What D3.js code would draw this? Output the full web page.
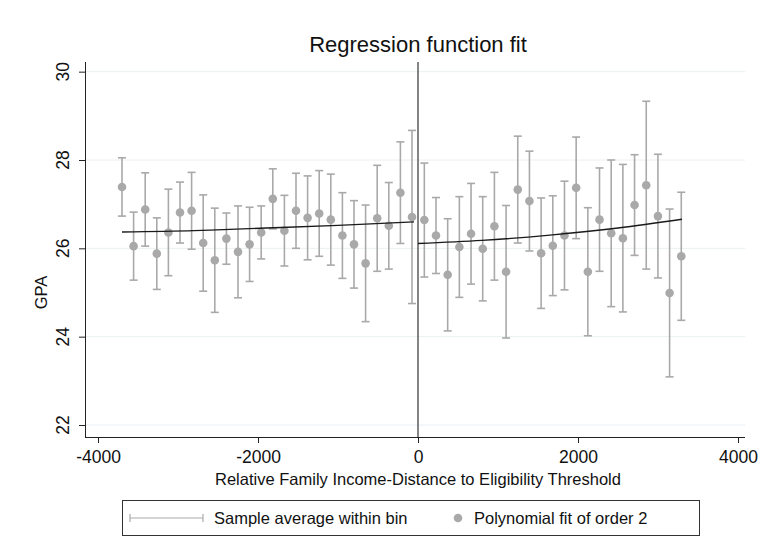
<!DOCTYPE html>
<html><head><meta charset="utf-8">
<script src="https://cdn.jsdelivr.net/npm/d3@7"></script>
<style>body{margin:0;background:#fff;font-family:"Liberation Sans",Arial,sans-serif}</style>
</head><body><svg id="c" width="761" height="552"></svg>
<script>
const leftX = d3.range(26).map(i => -3700 + i*145);
const leftMean = [27.39,26.05,26.88,25.88,26.36,26.81,26.85,26.12,25.73,26.22,25.92,26.09,26.36,27.12,26.40,26.85,26.69,26.79,26.65,26.29,26.09,25.66,26.68,26.51,27.26,26.71];
const leftHalf = [0.66,0.77,0.83,0.81,0.98,0.69,0.87,1.09,1.18,0.58,1.04,0.84,0.60,0.68,0.80,0.85,0.95,0.97,1.03,0.97,0.99,1.32,1.20,0.98,1.15,1.96];
const rightX = d3.range(23).map(i => 79 + i*146);
const rightMean = [26.64,26.29,25.40,26.03,26.33,25.99,26.50,25.47,27.33,27.07,25.89,26.06,26.29,27.37,25.47,26.65,26.34,26.23,26.98,27.43,26.73,24.99,25.82];
const rightHalf = [1.29,0.86,1.27,1.14,1.14,1.18,1.22,1.50,1.21,1.13,1.25,1.13,1.23,1.15,1.45,1.17,1.66,1.67,1.14,1.90,1.40,1.90,1.45];
const fitLeftX = [-3700,-2800,-1900,-1000,-50];
const fitLeftY = [26.37,26.40,26.46,26.52,26.60];
const fitRightX = [0,800,1650,2500,3300];
const fitRightY = [26.11,26.18,26.30,26.46,26.66];
const xTicks = [-4000,-2000,0,2000,4000];
const yTicks = [22,24,26,28,30];

const svg = d3.select("#c");
const x = d3.scaleLinear().domain([-4000,4000]).range([98,738]);
const y = d3.scaleLinear().domain([22,28]).range([425,160]);
const L=85,R=745,T=62,B=437;
const FF="Liberation Sans, Arial, sans-serif";
svg.selectAll(".g").data(yTicks).enter().append("line")
 .attr("x1",L).attr("x2",R).attr("y1",d=>y(d)).attr("y2",d=>y(d)).attr("stroke","#eaf0f3").attr("stroke-width",1);
const xa = svg.append("g").attr("transform",`translate(0,${B})`).call(d3.axisBottom(x).tickValues(xTicks).tickSize(6).tickPadding(4).tickFormat(d=>String(d)));
xa.select(".domain").attr("d",`M${L},0.5H${R}`);
xa.selectAll("text").attr("font-size",17.5).attr("fill","#111").attr("font-family",FF).attr("dy","0.9em");
const ya = svg.append("g").attr("transform",`translate(${L},0)`).call(d3.axisLeft(y).tickValues(yTicks).tickSize(6).tickFormat(""));
ya.select(".domain").attr("d",`M0.5,${T}V${B}`);
[xa,ya].forEach(a=>a.selectAll("path,line").attr("stroke","#222"));
svg.selectAll(".yl").data(yTicks).enter().append("text")
 .attr("transform",d=>`translate(69,${y(d)}) rotate(-90)`).attr("text-anchor","middle")
 .attr("font-size",17.5).attr("fill","#111").attr("font-family",FF).text(d=>d);
svg.append("line").attr("x1",x(0)).attr("x2",x(0)).attr("y1",T).attr("y2",B).attr("stroke","#333").attr("stroke-width",1.2);
const grey="#a9a9a9";
function draw(xs,ms,hs){
 xs.forEach((xv,i)=>{
  const cx=x(xv), t=y(ms[i]+hs[i]), b=y(ms[i]-hs[i]);
  svg.append("line").attr("x1",cx).attr("x2",cx).attr("y1",t).attr("y2",b).attr("stroke",grey).attr("stroke-width",1.6);
  [t,b].forEach(v=>svg.append("line").attr("x1",cx-4).attr("x2",cx+4).attr("y1",v).attr("y2",v).attr("stroke",grey).attr("stroke-width",1.6));
  svg.append("circle").attr("cx",cx).attr("cy",y(ms[i])).attr("r",4.3).attr("fill",grey);
 });
}
draw(leftX,leftMean,leftHalf);draw(rightX,rightMean,rightHalf);
const line=d3.line().x(d=>x(d[0])).y(d=>y(d[1])).curve(d3.curveNatural);
svg.append("path").attr("d",line(d3.zip(fitLeftX,fitLeftY))).attr("fill","none").attr("stroke","#1a1a1a").attr("stroke-width",1.4);
svg.append("path").attr("d",line(d3.zip(fitRightX,fitRightY))).attr("fill","none").attr("stroke","#1a1a1a").attr("stroke-width",1.4);
svg.append("text").attr("x",418).attr("y",52).attr("text-anchor","middle").attr("font-size",22).attr("fill","#111").attr("font-family",FF).text("Regression function fit");
svg.append("text").attr("x",418).attr("y",485).attr("text-anchor","middle").attr("font-size",16.5).attr("fill","#111").attr("font-family",FF).text("Relative Family Income-Distance to Eligibility Threshold");
svg.append("text").attr("transform",`translate(47,${y(25)}) rotate(-90)`).attr("text-anchor","middle").attr("font-size",16.5).attr("fill","#111").attr("font-family",FF).text("GPA");
svg.append("rect").attr("x",122.5).attr("y",500.5).attr("width",577).attr("height",35).attr("fill","#fff").attr("stroke","#333");
svg.append("line").attr("x1",130).attr("x2",203).attr("y1",518).attr("y2",518).attr("stroke",grey).attr("stroke-width",1.2);
[130,203].forEach(v=>svg.append("line").attr("x1",v).attr("x2",v).attr("y1",514).attr("y2",522).attr("stroke",grey).attr("stroke-width",1.2));
svg.append("text").attr("x",214).attr("y",524).attr("font-size",16.5).attr("fill","#111").attr("font-family",FF).text("Sample average within bin");
svg.append("circle").attr("cx",458).attr("cy",518).attr("r",4.3).attr("fill",grey);
svg.append("text").attr("x",474).attr("y",524).attr("font-size",16.5).attr("fill","#111").attr("font-family",FF).text("Polynomial fit of order 2");
</script></body></html>
